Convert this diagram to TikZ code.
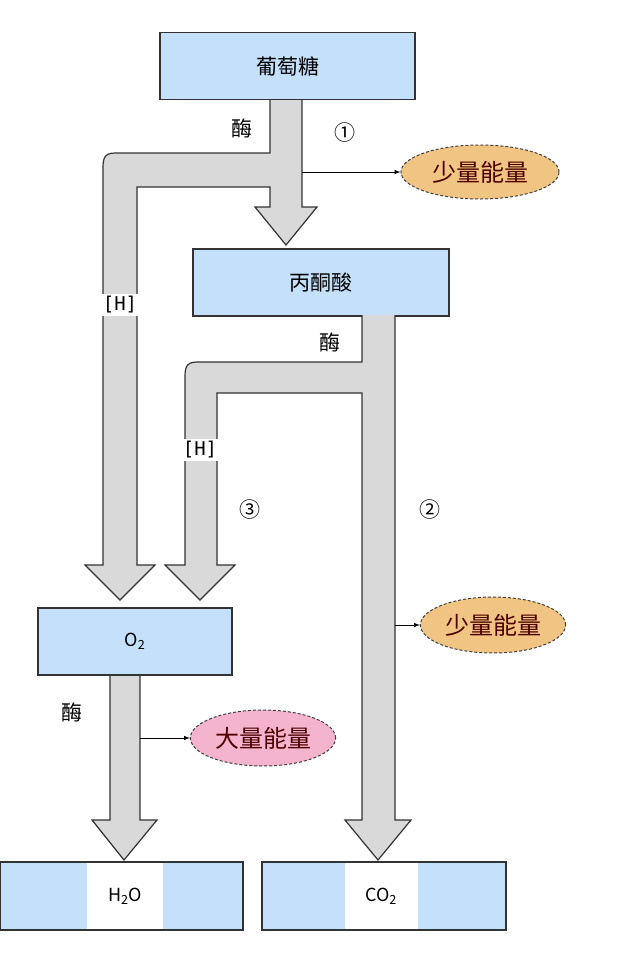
\documentclass[tikz,border=0pt]{standalone}
\usepackage{fontspec}
\usetikzlibrary{shapes.geometric}
\setmainfont{Noto Sans CJK SC}
\setmonofont{DejaVu Sans Mono}
\definecolor{bx}{RGB}{197,224,250}
\definecolor{org}{RGB}{240,196,130}
\definecolor{pnk}{RGB}{244,180,205}
\begin{document}
\begin{tikzpicture}[x=1pt,y=-1pt,
 box/.style={draw=black!80,line width=1.2pt,fill=bx,minimum height=67pt,inner sep=0pt,font=\fontsize{21}{21}\selectfont},
 band/.style={draw=black!80,line width=1.2pt,fill=black!15,line join=miter},
 en/.style={ellipse,draw=black!75,densely dashed,line width=1pt,font=\fontsize{24}{24}\selectfont,text=black!70!red},
 lab/.style={font=\fontsize{21}{21}\selectfont,inner sep=1pt},
 hl/.style={fill=white,font=\ttfamily\fontsize{19}{19}\selectfont,inner sep=3pt},
 sub/.style={font=\fontsize{18}{18}\selectfont},
 sm/.style={-latex,line width=1pt}]
\fill[white](0,0) rectangle (620,967);
\useasboundingbox (0,0) rectangle (620,967);
% boxes
\node[box,minimum width=255pt] (glu) at (287.5,66) {葡萄糖};
\node[box,minimum width=256pt] (pyr) at (321,282.5) {丙酮酸};
\node[box,minimum width=194pt,font=\fontsize{18}{18}\selectfont] (o2) at (135,641.5) {O\textsubscript{2}};
\node[box,minimum width=243pt,minimum height=68pt] (h2o) at (121.5,896) {};
\fill[white] (87,863) rectangle (163,929);
\node[sub] (h2ot) at (125,896) {H\textsubscript{2}O};
\node[box,minimum width=244pt,minimum height=68pt] (co2) at (384,896) {};
\fill[white] (345,863) rectangle (418,929);
\node[sub] (co2t) at (381,896) {CO\textsubscript{2}};
% glucose arrow with branch
\draw[band] (270,100) -- (270,153) -- (115,153) .. controls (103,153) and (103,160) .. (103,170) -- (103,565) -- (85,565) -- (120,600) -- (155,565) -- (137,565) -- (137,187) -- (270,187) -- (270,207) -- (255,207) -- (286,245) -- (317,207) -- (302,207) -- (302,100);
% pyruvate arrow with branch
\draw[band] (362,315) -- (362,362) -- (197,362) .. controls (185,362) and (185,369) .. (185,379) -- (185,565) -- (165,565) -- (200,600) -- (235,565) -- (217,565) -- (217,393) -- (362,393) -- (362,820) -- (345,820) -- (378,860) -- (411,820) -- (395,820) -- (395,315);
% O2 arrow
\draw[band] (110,676) -- (110,820) -- (92,820) -- (124,860) -- (157,820) -- (140,820) -- (140,676);
% labels
\node[hl] (h1) at (120,305) {[H]};
\node[hl] (h2) at (200,450) {[H]};
\node[lab] (e1) at (242,128) {酶};
\node[lab] (e2) at (330,342) {酶};
\node[lab] (e3) at (72,712) {酶};
\node[lab] (c1) at (345,133) {①};
\node[lab] (c2) at (430,510) {②};
\node[lab] (c3) at (250,510) {③};
% energy
\node[en,fill=org,minimum width=158pt,minimum height=54pt] (en1) at (480,172) {少量能量};
\node[en,fill=org,minimum width=130pt,minimum height=56pt] (en2) at (493,625) {少量能量};
\node[en,fill=pnk,minimum width=132pt,minimum height=56pt] (en3) at (263,738) {大量能量};
\coordinate (s1) at (302,172);
\coordinate (s2) at (395,625);
\coordinate (s3) at (140,738);
\draw[sm] (s1) -- (en1.west);
\draw[sm] (s2) -- (en2.west);
\draw[sm] (s3) -- (en3.west);
\end{tikzpicture}
\end{document}
